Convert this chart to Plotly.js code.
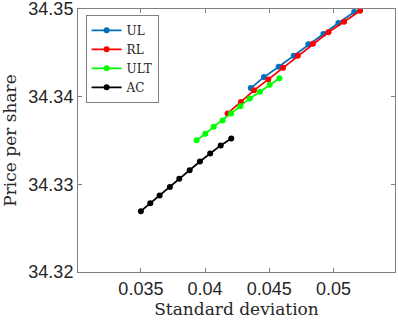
<!DOCTYPE html>
<html>
<head>
<meta charset="utf-8">
<script src="https://cdn.plot.ly/plotly-3.0.1.min.js"></script>
<style>
  html, body { margin: 0; padding: 0; background: #fff; }
  #plotField { width: 398px; height: 320px; }
</style>
</head>
<body>
<div id="plotField"></div>
<script>
// values
var ulStd = [0.04356, 0.04459, 0.04574, 0.04691, 0.04805, 0.04922, 0.05039, 0.05162];
var ulPrice = [34.34098, 34.34223, 34.34341, 34.34467, 34.34597, 34.34715, 34.3484, 34.34966];

var rlStd = [0.04176, 0.0428, 0.04381, 0.04493, 0.04608, 0.04722, 0.0484, 0.04961, 0.05083, 0.05208];
var rlPrice = [34.33809, 34.33938, 34.34072, 34.34197, 34.3433, 34.34467, 34.34604, 34.34734, 34.34855, 34.34981];

var ultStd = [0.03934, 0.04002, 0.04067, 0.04137, 0.04204, 0.04275, 0.04348, 0.04428, 0.04504, 0.04579];
var ultPrice = [34.33504, 34.33576, 34.33656, 34.33729, 34.33809, 34.33892, 34.3398, 34.34056, 34.34136, 34.34209];

var acStd = [0.035, 0.03573, 0.03646, 0.03726, 0.03799, 0.0388, 0.0396, 0.0404, 0.04122, 0.04204];
var acPrice = [34.32694, 34.32785, 34.32873, 34.32971, 34.33063, 34.33162, 34.33261, 34.33352, 34.33444, 34.33524];

var xTicks = [0.035, 0.04, 0.045, 0.05];
var xTickText = ['0.035', '0.04', '0.045', '0.05'];
var yTicks = [34.32, 34.33, 34.34, 34.35];
var yTickText = ['34.32', '34.33', '34.34', '34.35'];

function series(name, x, y, color) {
    return {
        x: x,
        y: y,
        name: name,
        type: 'scatter',
        mode: 'lines+markers',
        line: {color: color, width: 1.8},
        marker: {color: color, size: 6}
    };
}

var data = [
    series('UL', ulStd, ulPrice, '#0072BD'),
    series('RL', rlStd, rlPrice, '#FF0000'),
    series('ULT', ultStd, ultPrice, '#00FF00'),
    series('AC', acStd, acPrice, '#000000')
];

var axisColor = '#808080';
var layout = {
    width: 398,
    height: 320,
    margin: {l: 78, r: 3, t: 9, b: 48},
    paper_bgcolor: '#fff',
    plot_bgcolor: '#fff',
    showlegend: true,
    legend: {
        x: 0.024,
        y: 0.978,
        xanchor: 'left',
        yanchor: 'top',
        bgcolor: '#fff',
        bordercolor: axisColor,
        borderwidth: 1,
        itemwidth: 30,
        font: {family: 'DejaVu Serif', size: 12, color: '#262626'}
    },
    xaxis: {
        range: [0.0301, 0.0548],
        tickvals: xTicks,
        ticktext: xTickText,
        ticks: 'inside',
        ticklen: 4,
        tickcolor: axisColor,
        showline: true,
        linecolor: axisColor,
        linewidth: 1,
        mirror: 'allticks',
        showgrid: false,
        zeroline: false,
        ticklabeloverflow: 'allow',
        tickfont: {family: 'Liberation Sans', size: 18, color: '#262626'},
        title: {
            text: 'Standard deviation',
            font: {family: 'DejaVu Serif', size: 17, color: '#262626'},
            standoff: 4
        }
    },
    yaxis: {
        range: [34.32, 34.35],
        tickvals: yTicks,
        ticktext: yTickText,
        ticks: 'inside',
        ticklen: 4,
        tickcolor: axisColor,
        showline: true,
        linecolor: axisColor,
        linewidth: 1,
        mirror: 'allticks',
        showgrid: false,
        zeroline: false,
        ticklabeloverflow: 'allow',
        tickfont: {family: 'Liberation Sans', size: 18, color: '#262626'},
        title: {
            text: 'Price per share',
            font: {family: 'DejaVu Serif', size: 17, color: '#262626'},
            standoff: 10
        }
    }
};

var config = {staticPlot: true, displayModeBar: false};
Plotly.newPlot('plotField', data, layout, config);
</script>
</body>
</html>
